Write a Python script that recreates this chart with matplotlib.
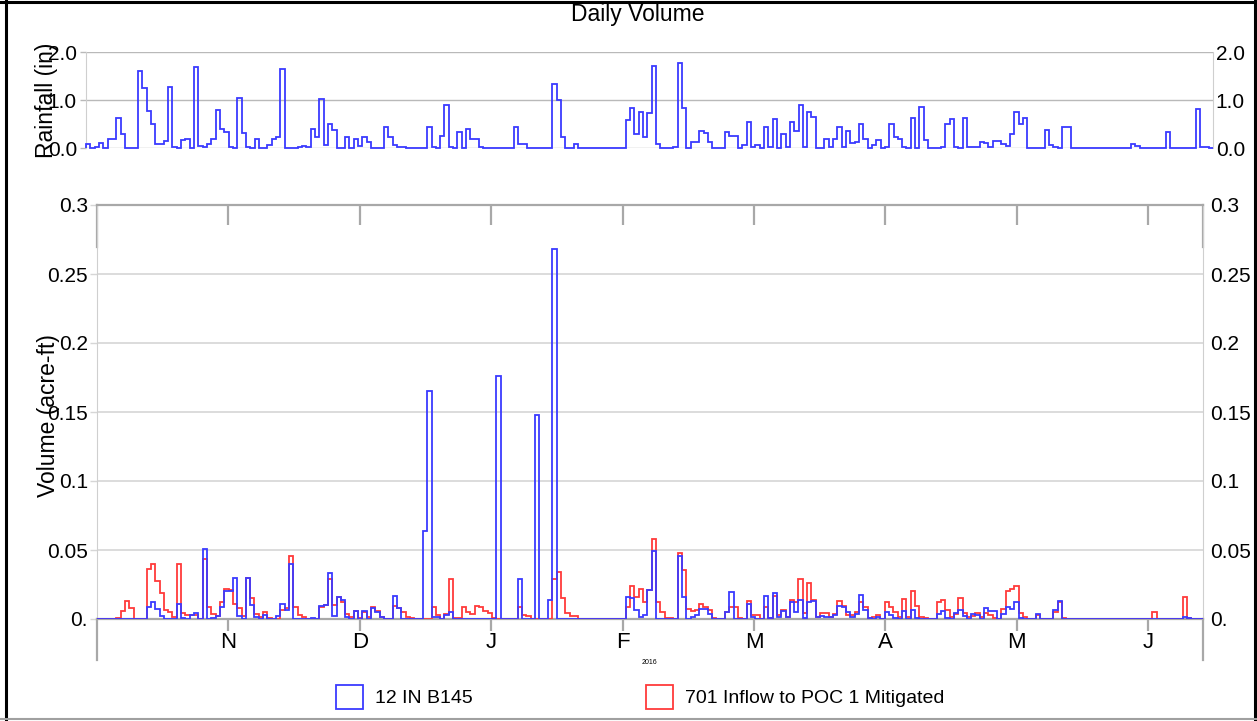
import numpy as np
import matplotlib
matplotlib.use('Agg')
import matplotlib.pyplot as plt
from matplotlib import font_manager as fm
from matplotlib.patches import Patch
from matplotlib.lines import Line2D

# ---------------- data (day index 0 = 1 Oct 2015) ----------------
rain_events = [(-2, 0.08), (0, 0.02), (1, 0.10), (3, 0.19), (4, 0.19), (5, 0.63), (6, 0.30),
               (10, 1.60), (11, 1.24), (12, 0.77), (13, 0.51), (14, 0.08), (15, 0.08), (16, 0.15),
               (17, 1.28), (18, 0.02), (20, 0.17), (21, 0.19), (23, 1.68), (24, 0.04), (25, 0.02),
               (26, 0.08), (27, 0.19), (28, 0.79), (29, 0.40), (30, 0.34), (31, 0.03), (33, 1.05),
               (34, 0.31), (35, 0.02), (37, 0.19), (40, 0.07), (41, 0.19), (42, 0.23), (43, 1.64),
               (47, 0.02), (48, 0.05), (49, 0.02), (50, 0.40), (51, 0.23), (52, 1.03), (53, 0.07),
               (54, 0.49), (55, 0.38), (58, 0.22), (60, 0.19), (61, 0.05), (62, 0.23), (63, 0.13),
               (67, 0.44), (68, 0.23), (69, 0.06), (70, 0.03), (71, 0.02), (77, 0.44), (78, 0.02),
               (80, 0.24), (81, 0.89), (82, 0.03), (84, 0.33), (86, 0.40), (87, 0.19), (88, 0.19),
               (89, 0.03), (97, 0.44), (98, 0.08), (99, 0.08), (106, 1.33), (107, 0.99), (108, 0.23),
               (111, 0.08), (123, 0.58), (124, 0.83), (125, 0.30), (126, 0.74), (127, 0.23),
               (128, 0.72), (129, 1.70), (130, 0.08), (134, 0.02), (135, 1.78), (136, 0.83),
               (138, 0.13), (139, 0.13), (140, 0.35), (141, 0.31), (142, 0.13), (146, 0.33),
               (147, 0.25), (148, 0.25), (150, 0.06), (151, 0.54), (152, 0.03), (153, 0.06),
               (155, 0.43), (156, 0.03), (157, 0.60), (159, 0.29), (160, 0.03), (161, 0.54),
               (162, 0.35), (163, 0.90), (164, 0.02), (165, 0.75), (166, 0.64), (169, 0.19),
               (170, 0.02), (171, 0.19), (172, 0.43), (173, 0.02), (174, 0.35), (175, 0.11),
               (176, 0.13), (177, 0.50), (178, 0.19), (180, 0.07), (181, 0.17), (183, 0.02),
               (184, 0.51), (185, 0.22), (186, 0.19), (187, 0.03), (189, 0.63), (191, 0.85),
               (192, 0.17), (196, 0.03), (197, 0.50), (198, 0.60), (199, 0.03), (201, 0.63),
               (202, 0.02), (203, 0.02), (204, 0.02), (205, 0.12), (206, 0.10), (207, 0.02),
               (208, 0.15), (209, 0.15), (210, 0.08), (211, 0.05), (212, 0.29), (213, 0.76),
               (214, 0.50), (215, 0.63), (220, 0.37), (221, 0.06), (222, 0.02), (224, 0.44),
               (225, 0.44), (240, 0.08), (241, 0.05), (248, 0.33), (249, 0.01), (255, 0.81),
               (256, 0.02), (257, 0.02)]

blue_events = [(12, 0.009), (13, 0.0126), (14, 0.007), (15, 0.002), (19, 0.011), (20, 0.001),
               (22, 0.003), (23, 0.004), (25, 0.0505), (27, 0.001), (28, 0.002), (29, 0.009),
               (30, 0.020), (31, 0.020), (32, 0.030), (33, 0.002), (35, 0.0295), (36, 0.010),
               (37, 0.0017), (39, 0.003), (42, 0.002), (43, 0.011), (44, 0.0065), (45, 0.040),
               (50, 0.001), (52, 0.0094), (53, 0.010), (54, 0.033), (55, 0.002), (56, 0.016),
               (57, 0.0138), (58, 0.0017), (60, 0.0058), (62, 0.0058), (64, 0.0077), (65, 0.0053),
               (66, 0.0017), (69, 0.017), (70, 0.0077), (76, 0.064), (77, 0.165), (78, 0.0017),
               (79, 0.0017), (81, 0.003), (82, 0.005), (93, 0.176), (98, 0.0287), (102, 0.148),
               (105, 0.0138), (106, 0.268), (123, 0.0157), (124, 0.015), (125, 0.0065),
               (126, 0.0017), (127, 0.0027), (128, 0.021), (129, 0.049), (135, 0.0457),
               (136, 0.016), (138, 0.0017), (139, 0.003), (140, 0.007), (141, 0.007),
               (142, 0.0034), (146, 0.005), (147, 0.0198), (151, 0.011), (152, 0.0017),
               (155, 0.017), (156, 0.001), (157, 0.0186), (158, 0.0017), (159, 0.006),
               (160, 0.0017), (161, 0.0126), (162, 0.005), (163, 0.014), (164, 0.001),
               (165, 0.0126), (166, 0.013), (167, 0.0017), (168, 0.0024), (169, 0.0017),
               (170, 0.0017), (171, 0.003), (172, 0.0094), (173, 0.009), (174, 0.005),
               (175, 0.0017), (176, 0.0036), (177, 0.0174), (178, 0.0065), (179, 0.001),
               (181, 0.0017), (183, 0.005), (184, 0.003), (185, 0.001), (187, 0.006),
               (189, 0.0065), (190, 0.0005), (195, 0.0036), (196, 0.006), (197, 0.001),
               (199, 0.004), (200, 0.0065), (201, 0.002), (203, 0.0034), (204, 0.003),
               (206, 0.0077), (207, 0.006), (208, 0.006), (210, 0.0034), (211, 0.0085),
               (212, 0.007), (213, 0.0126), (214, 0.001), (218, 0.0036), (222, 0.0065),
               (223, 0.0133), (252, 0.0017), (253, 0.001)]

red_events = [(5, 0.001), (6, 0.006), (7, 0.013), (8, 0.008), (12, 0.036), (13, 0.040),
              (14, 0.0275), (15, 0.0186), (16, 0.0065), (17, 0.005), (18, 0.0017), (19, 0.040),
              (20, 0.0046), (21, 0.0027), (22, 0.003), (23, 0.003), (25, 0.0435), (26, 0.009),
              (27, 0.0036), (28, 0.002), (29, 0.012), (30, 0.022), (31, 0.021), (32, 0.011),
              (33, 0.008), (34, 0.002), (35, 0.0295), (36, 0.015), (37, 0.0036), (38, 0.0017),
              (39, 0.005), (40, 0.001), (43, 0.0065), (44, 0.0077), (45, 0.046), (46, 0.009),
              (47, 0.003), (48, 0.0017), (52, 0.0085), (53, 0.010), (54, 0.0287), (55, 0.010),
              (56, 0.016), (57, 0.012), (58, 0.0036), (59, 0.0017), (60, 0.006), (61, 0.001),
              (62, 0.0053), (63, 0.0017), (64, 0.0085), (65, 0.006), (66, 0.0017), (69, 0.0094),
              (70, 0.0077), (71, 0.005), (72, 0.0017), (73, 0.001), (78, 0.0085), (79, 0.003),
              (81, 0.0034), (82, 0.0287), (83, 0.001), (84, 0.001), (85, 0.0085), (86, 0.005),
              (87, 0.0036), (88, 0.0094), (89, 0.0085), (90, 0.006), (91, 0.004), (92, 0.001),
              (98, 0.0085), (99, 0.003), (100, 0.0024), (106, 0.0287), (107, 0.034), (108, 0.015),
              (109, 0.004), (110, 0.002), (111, 0.002), (123, 0.0085), (124, 0.024), (125, 0.016),
              (126, 0.0215), (127, 0.0126), (128, 0.021), (129, 0.058), (130, 0.0126),
              (131, 0.005), (132, 0.001), (133, 0.0007), (135, 0.0476), (136, 0.0355),
              (137, 0.007), (138, 0.006), (139, 0.0065), (140, 0.0106), (141, 0.0085),
              (142, 0.0065), (143, 0.001), (146, 0.005), (147, 0.0085), (148, 0.0085),
              (149, 0.001), (151, 0.0133), (152, 0.003), (153, 0.003), (155, 0.0085),
              (156, 0.001), (157, 0.0167), (158, 0.003), (159, 0.0065), (160, 0.0017),
              (161, 0.014), (162, 0.012), (163, 0.0287), (164, 0.004), (165, 0.026),
              (166, 0.0138), (167, 0.0017), (168, 0.0046), (169, 0.0046), (170, 0.0017),
              (171, 0.0036), (172, 0.0133), (173, 0.0094), (174, 0.003), (175, 0.003),
              (176, 0.005), (177, 0.0126), (178, 0.0085), (179, 0.001), (180, 0.0017),
              (181, 0.003), (183, 0.0126), (184, 0.0085), (185, 0.005), (186, 0.0017),
              (187, 0.0145), (188, 0.0017), (189, 0.0205), (190, 0.0094), (191, 0.0017),
              (192, 0.0005), (195, 0.012), (196, 0.0138), (197, 0.0065), (198, 0.0017),
              (199, 0.0036), (200, 0.015), (201, 0.004), (202, 0.0017), (203, 0.0024),
              (204, 0.0046), (205, 0.0017), (206, 0.0046), (207, 0.003), (208, 0.001),
              (210, 0.007), (211, 0.0203), (212, 0.0215), (213, 0.024), (214, 0.004),
              (215, 0.0017), (218, 0.003), (222, 0.005), (223, 0.012), (224, 0.001),
              (245, 0.005), (252, 0.0157), (253, 0.001)]

month_labels = ['N', 'D', 'J', 'F', 'M', 'A', 'M', 'J']
month_len = 30.44
vol_ticks = [0, 0.05, 0.1, 0.15, 0.2, 0.25, 0.3]
vol_tick_labels = ['0.', '0.05', '0.1', '0.15', '0.2', '0.25', '0.3']
rain_ticks = [0.0, 1.0, 2.0]
rain_tick_labels = ['0.0', '1.0', '2.0']
series_names = ['12 IN B145', '701 Inflow to POC 1 Mitigated']
year_label = '2016'
title_text = 'Daily Volume'

# ---------------- style ----------------
avail = {f.name for f in fm.fontManager.ttflist}
REG = 'Liberation Sans' if 'Liberation Sans' in avail else 'DejaVu Sans'
if 'Liberation Sans Narrow' in avail:
    NARROW, NS, LS = 'Liberation Sans Narrow', 17.5, 17.0
else:
    NARROW, NS, LS = REG, 15, 14
BLUE = '#3a3aff'
RED = '#ff3a3a'
AXGRAY = '#a8a8a8'
GRID_T = '#b9b9b9'
GRID_B = '#d6d6d6'
SPINE = '#cfcfcf'

W, H = 1257, 721
fig = plt.figure(figsize=(W / 100, H / 100), dpi=100)
fig.patch.set_facecolor('white')


def rect(x0, y0, x1, y1):
    return [x0 / W, 1 - y1 / H, (x1 - x0) / W, (y1 - y0) / H]


def daily(events, first, last):
    vals = np.zeros(last - first + 1)
    for d, v in events:
        vals[d - first] = v
    return vals, np.arange(first, last + 2)


# ---------------- rainfall panel ----------------
ax_t = fig.add_axes(rect(86, 52, 1213, 148))
rv, re_ = daily(rain_events, -2, 258)
ax_t.stairs(rv, re_, baseline=0, color=BLUE, lw=1.3, clip_on=False, zorder=3)
ax_t.set_xlim(-2.03, 259.0)
ax_t.set_ylim(0, 2.0)
ax_t.set_xticks([])
ax_t.set_yticks(rain_ticks)
ax_t.set_yticklabels(rain_tick_labels, fontfamily=NARROW, fontsize=NS)
ax_t.tick_params(axis='y', left=True, right=False, length=4, color=GRID_T, width=1, pad=2.5)
ax_t.yaxis.grid(True, color=GRID_T, lw=1)
ax_t.set_axisbelow(True)
for s in ('top', 'bottom'):
    ax_t.spines[s].set_visible(False)
for s in ('left', 'right'):
    ax_t.spines[s].set_color(SPINE)
    ax_t.spines[s].set_linewidth(0.8)
sec_t = ax_t.secondary_yaxis('right')
sec_t.set_yticks(rain_ticks)
sec_t.set_yticklabels(rain_tick_labels, fontfamily=NARROW, fontsize=NS)
sec_t.tick_params(length=0, pad=2)
sec_t.spines['right'].set_visible(False)
ax_t.set_ylabel('Rainfall (in)', fontfamily=REG, fontsize=16.5)
ax_t.yaxis.set_label_coords((58 - 86) / 1127, 0.5)

# ---------------- volume panel ----------------
ax_b = fig.add_axes(rect(97, 205, 1203, 619))
red_v, ve = daily(red_events, 0, 256)
blue_v, _ = daily(blue_events, 0, 256)
ax_b.stairs(red_v, ve, baseline=0, color=RED, lw=1.3, zorder=3)
ax_b.stairs(blue_v, ve, baseline=0, color=BLUE, lw=1.3, zorder=4)
ax_b.set_xlim(0.52, 256.7)
ax_b.set_ylim(0, 0.3)
ax_b.set_yticks(vol_ticks)
ax_b.set_yticklabels(vol_tick_labels, fontfamily=NARROW, fontsize=NS)
ax_b.tick_params(axis='y', left=True, right=False, length=5, color=GRID_B, width=1, pad=1.5)
ax_b.yaxis.grid(True, color=GRID_B, lw=1.2)
ax_b.set_axisbelow(True)
sec_b = ax_b.secondary_yaxis('right')
sec_b.set_yticks(vol_ticks)
sec_b.set_yticklabels(vol_tick_labels, fontfamily=NARROW, fontsize=NS)
sec_b.tick_params(length=0, pad=5)
sec_b.spines['right'].set_visible(False)
for s in ('left', 'right'):
    ax_b.spines[s].set_color(SPINE)
    ax_b.spines[s].set_linewidth(0.8)
for s in ('top', 'bottom'):
    ax_b.spines[s].set_color(AXGRAY)
    ax_b.spines[s].set_linewidth(1.6)

month_pos = 0.5 + month_len * np.arange(1, len(month_labels) + 1)
ax_b.set_xticks(month_pos)
ax_b.set_xticklabels(month_labels, fontfamily=NARROW, fontsize=16)
ax_b.tick_params(axis='x', direction='out', length=8.5, width=1.6, color=AXGRAY, pad=1)
sec_x = ax_b.secondary_xaxis('top')
sec_x.set_xticks(month_pos)
sec_x.tick_params(direction='in', length=14.5, width=1.6, color=AXGRAY, labeltop=False)
sec_x.spines['top'].set_visible(False)

ax_b.set_ylabel('Volume (acre-ft)', fontfamily=REG, fontsize=16.5)
ax_b.yaxis.set_label_coords((60 - 97) / 1106, (619 - 416) / 414)

# end caps of the date axes
for xa in (0, 1):
    ax_b.add_line(Line2D([xa, xa], [1, 1 - 42 / 414], transform=ax_b.transAxes,
                         color=AXGRAY, lw=1.6, clip_on=False))
    ax_b.add_line(Line2D([xa, xa], [0, -41 / 414], transform=ax_b.transAxes,
                         color=AXGRAY, lw=1.6, clip_on=False))

fig.text(649 / W, 1 - 662 / H, year_label, fontfamily=REG, fontsize=5, ha='center', va='center')
fig.text(638 / W, 1 - 15 / H, title_text, fontfamily=REG, fontsize=16.5, ha='center', va='center')

# legend
fs_px = LS * 100 / 72
handles = [Patch(facecolor='white', edgecolor=BLUE, lw=1.3),
           Patch(facecolor='white', edgecolor=RED, lw=1.3)]
fig.legend(handles, series_names, loc='center', bbox_to_anchor=(640 / W, 1 - 697 / H),
           ncol=2, frameon=False, handlelength=27 / fs_px, handleheight=29 / fs_px,
           handletextpad=12 / fs_px, columnspacing=173 / fs_px,
           prop={'family': NARROW, 'size': LS})

# figure frame
fig.add_artist(Line2D([6 / W, 6 / W], [0, 1], transform=fig.transFigure, color='black', lw=2.2))
fig.add_artist(Line2D([0, 1], [1 - 1.5 / H, 1 - 1.5 / H], transform=fig.transFigure, color='black', lw=2.2))
fig.add_artist(Line2D([1254.5 / W, 1254.5 / W], [0, 1], transform=fig.transFigure, color='black', lw=2.2))
fig.add_artist(Line2D([0, 1], [1 - 719 / H, 1 - 719 / H], transform=fig.transFigure, color='#a0a0a0', lw=1.5))

fig.savefig('out.png', dpi=100, facecolor='white')
